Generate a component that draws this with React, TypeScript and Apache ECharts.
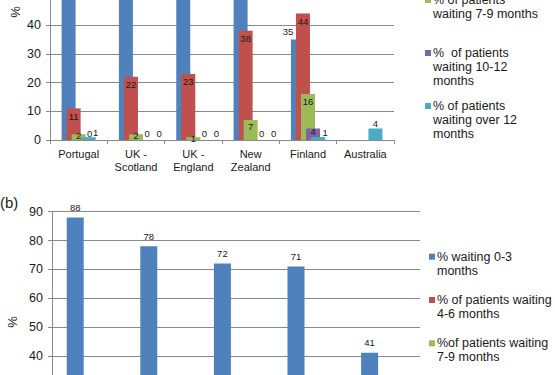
import React, { useEffect, useRef } from "react";
import * as echarts from "echarts";

// ---------- Chart (a) data ----------
const categoriesA = ["Portugal", "UK -\nScotland", "UK -\nEngland", "New\nZealand", "Finland", "Australia"];
const a0to3: (number | null)[] = [86, 76, 76, 55, 35, null];
const a4to6: (number | null)[] = [11, 22, 23, 38, 44, null];
const a7to9: (number | null)[] = [2, 2, 1, 7, 16, null];
const a10to12: (number | null)[] = [0, 0, 0, 0, 4, null];
const aOver12: (number | null)[] = [1, 0, 0, 0, 1, 4];
const legendA = [
  "% waiting 0-3\nmonths",
  "% of patients\nwaiting 4-6\nmonths",
  "% of patients\nwaiting 7-9 months",
  "%  of patients\nwaiting 10-12\nmonths",
  "% of patients\nwaiting over 12\nmonths",
];

// ---------- Chart (b) data ----------
const categoriesB = ["Portugal", "UK -\nScotland", "UK -\nEngland", "New\nZealand", "Finland"];
const b0to3: (number | null)[] = [88, 78, 72, 71, 41];
const b4to6: (number | null)[] = [11, 21, 25, 26, 30];
const b7to9: (number | null)[] = [1, 1, 2, 2, 20];
const b10to12: (number | null)[] = [0, 0, 0, 1, 5];
const bOver12: (number | null)[] = [0, 0, 1, 0, 4];
const legendB = [
  "% waiting 0-3\nmonths",
  "% of patients waiting\n4-6 months",
  "%of patients waiting\n7-9 months",
  "% of patients waiting\n10-12 months",
  "% of patients waiting\nover 12 months",
];

const yMin = 0;
const yMax = 90;
const yStep = 10;

const COLORS = ["#4F81BD", "#C0504D", "#9BBB59", "#8064A2", "#4BACC6"];
const FONT = "'Liberation Sans', Arial, sans-serif";
const TXT = "#1a1a1a";
const GRID_COLOR = "#8a8a8a";

// The figure is a crop of a taller page: the chart canvas is taller and shifted up.
const OFF = 130;
const H = 650;

function labelA(s: number, v: number): any {
  if (s === 0) return { position: "top", distance: 3, offset: [-10, 0] };
  if (v === 0) return { position: "top", distance: 2, offset: [s === 3 ? 6 : 13, 0] };
  if (s === 1) return { position: "insideTop", distance: 3 };
  if (s === 2) return v >= 5 ? { position: "insideTop", distance: 2 } : { position: "top", distance: -6 };
  if (s === 3) return { position: "insideTop", distance: -2 };
  return { position: "top", distance: 0, offset: [v <= 1 ? 7 : 0, 0] };
}

function labelB(s: number, _v: number): any {
  if (s === 0) return { position: "top", distance: 5 };
  return { position: "insideTop", distance: 3 };
}

function buildSeries(
  sets: (number | null)[][],
  names: string[],
  idx: number,
  barWidth: number,
  barGap: string,
  labelFn: (s: number, v: number) => any
) {
  return sets.map((vals, s) => ({
    type: "bar",
    name: names[s].replace(/\n/g, " "),
    xAxisIndex: idx,
    yAxisIndex: idx,
    barWidth,
    barGap,
    itemStyle: { color: COLORS[s] },
    label: { show: true, fontSize: 9.5, color: TXT, fontFamily: FONT },
    data: vals.map((v) =>
      v === null ? null : { value: v, label: { show: true, ...labelFn(s, v) } }
    ),
  }));
}

function legendGraphics(names: string[], markerX: number, firstY: number, step: number) {
  const out: any[] = [];
  names.forEach((n, i) => {
    const cy = firstY + i * step + OFF;
    out.push({
      type: "rect",
      shape: { x: markerX, y: cy - 3, width: 6, height: 6 },
      style: { fill: COLORS[i] },
      silent: true,
    });
    out.push({
      type: "text",
      x: markerX + 8,
      y: cy - 7,
      style: {
        text: n,
        font: `12.5px ${FONT}`,
        fill: TXT,
        lineHeight: 14,
        verticalAlign: "top",
      },
      silent: true,
    });
  });
  return out;
}

function axisPair(idx: number, cats: string[]) {
  const x = {
    type: "category",
    gridIndex: idx,
    data: cats,
    axisLine: { show: true, lineStyle: { color: GRID_COLOR, width: 1 } },
    axisTick: { show: true, length: 4, alignWithLabel: false, lineStyle: { color: GRID_COLOR } },
    axisLabel: { interval: 0, fontSize: 11, color: TXT, margin: 7, lineHeight: 13, fontFamily: FONT },
    splitLine: { show: false },
  };
  const y = {
    type: "value",
    gridIndex: idx,
    min: yMin,
    max: yMax,
    interval: yStep,
    axisLine: { show: true, lineStyle: { color: GRID_COLOR, width: 1 } },
    axisTick: { show: true, length: 4, lineStyle: { color: GRID_COLOR } },
    axisLabel: { fontSize: 12.5, color: TXT, margin: 9, fontFamily: FONT },
    splitLine: { show: true, lineStyle: { color: GRID_COLOR, width: 1 } },
  };
  return { x, y };
}

export default function App() {
  const ref = useRef<HTMLDivElement>(null);

  useEffect(() => {
    if (!ref.current) return;
    document.body.style.margin = "0";
    const chart = echarts.init(ref.current, undefined, { renderer: "svg" });
    const A = axisPair(0, categoriesA);
    const B = axisPair(1, categoriesB);

    const option: any = {
      animation: false,
      backgroundColor: "#ffffff",
      textStyle: { fontFamily: FONT },
      grid: [
        { left: 50, right: 161, top: OFF - 118.75, height: 258.75 },
        { left: 52, right: 135, top: OFF + 211.7, height: 259.3 },
      ],
      xAxis: [A.x, B.x],
      yAxis: [A.y, B.y],
      series: [
        ...buildSeries([a0to3, a4to6, a7to9, a10to12, aOver12], legendA, 0, 14, "-64%", labelA),
        ...buildSeries([b0to3, b4to6, b7to9, b10to12, bOver12], legendB, 1, 17, "-60%", labelB),
      ],
      graphic: [
        {
          type: "text",
          x: 15,
          y: OFF + 12,
          rotation: Math.PI / 2,
          style: { text: "%", font: `13px ${FONT}`, fill: TXT, align: "center", verticalAlign: "middle" },
        },
        {
          type: "text",
          x: 12,
          y: OFF + 322,
          rotation: Math.PI / 2,
          style: { text: "%", font: `13px ${FONT}`, fill: TXT, align: "center", verticalAlign: "middle" },
        },
        {
          type: "text",
          x: 0,
          y: OFF + 202,
          style: { text: "(b)", font: `15px ${FONT}`, fill: TXT, align: "left", verticalAlign: "middle" },
        },
        ...legendGraphics(legendA, 425, -106, 53),
        ...legendGraphics(legendB, 429, 256.7, 43.3),
      ],
    };
    chart.setOption(option);
    return () => chart.dispose();
  }, []);

  return (
    <div style={{ position: "absolute", left: 0, top: 0, width: 555, height: 375, overflow: "hidden" }}>
      <div ref={ref} style={{ position: "absolute", left: 0, top: -OFF, width: 555, height: H }} />
    </div>
  );
}
